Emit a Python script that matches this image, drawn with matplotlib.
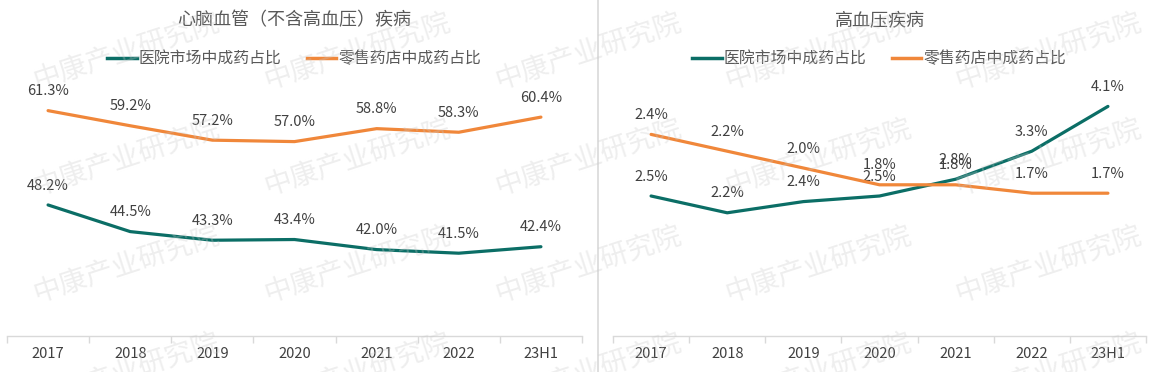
import matplotlib
matplotlib.use("Agg")
import matplotlib.pyplot as plt
from matplotlib.lines import Line2D

plt.rcParams['font.family'] = ['Noto Sans CJK SC', 'DejaVu Sans']

years = ['2017', '2018', '2019', '2020', '2021', '2022', '23H1']
series_names = ['医院市场中成药占比', '零售药店中成药占比']

# 心脑血管（不含高血压）疾病
cv_hospital = [48.2, 44.5, 43.3, 43.4, 42.0, 41.5, 42.4]
cv_retail = [61.3, 59.2, 57.2, 57.0, 58.8, 58.3, 60.4]

# 高血压疾病
hp_hospital = [2.5, 2.2, 2.4, 2.5, 2.8, 3.3, 4.1]
hp_retail = [2.4, 2.2, 2.0, 1.8, 1.8, 1.7, 1.7]

TEAL = '#0b6e66'
ORANGE = '#f0873a'
GRID = '#d9d9d9'
LABEL = '#404040'

W, H = 1149, 372
fig = plt.figure(figsize=(W / 100, H / 100), dpi=100)


def px_axes(x0, x1, ytop, ybot):
    return fig.add_axes([x0 / W, 1 - ybot / H, (x1 - x0) / W, (ybot - ytop) / H])


def style_axis(ax):
    for s in ['top', 'right', 'left']:
        ax.spines[s].set_visible(False)
    ax.spines['bottom'].set_color(GRID)
    ax.spines['bottom'].set_linewidth(1)
    ax.set_yticks([])
    ax.set_xlim(-0.5, len(years) - 0.5)
    ax.set_xticks(range(len(years)))
    ax.set_xticklabels(years, fontsize=10.5, color=LABEL)
    ax.tick_params(axis='x', which='major', length=0, pad=8)
    ax.set_xticks([i - 0.5 for i in range(len(years) + 1)], minor=True)
    ax.tick_params(axis='x', which='minor', length=5, color=GRID, width=1)
    ax.patch.set_alpha(0)


def label_points(ax, vals):
    for i, v in enumerate(vals):
        ax.annotate('{:.1f}%'.format(v), (i, v), xytext=(0, 14),
                    textcoords='offset points', ha='center', va='center',
                    fontsize=10.5, color=LABEL, annotation_clip=False)


def add_head(ax, title):
    ax.text(0.5, 1 + 64 / 252, title, transform=ax.transAxes, ha='center',
            va='center', fontsize=13, color='#595959')
    handles = [Line2D([], [], color=TEAL, lw=2.5),
               Line2D([], [], color=ORANGE, lw=2.5)]
    ax.legend(handles, series_names, loc='center',
              bbox_to_anchor=(0.5, 1 + 25 / 252), ncol=2, frameon=False,
              fontsize=11.4, handlelength=1.85, handletextpad=0.15,
              columnspacing=1.6, labelcolor='#595959')


x = list(range(len(years)))

# left panel
ax1 = px_axes(7, 582, 84, 336)
style_axis(ax1)
ax1.set_ylim(30, 65)
ax1.plot(x, cv_hospital, color=TEAL, lw=2.3, solid_capstyle='round')
ax1.plot(x, cv_retail, color=ORANGE, lw=2.3, solid_capstyle='round')
label_points(ax1, cv_hospital)
label_points(ax1, cv_retail)
add_head(ax1, '心脑血管（不含高血压）疾病')

# right panel, retail on secondary axis
ax2 = px_axes(613, 1146, 84, 336)
style_axis(ax2)
ax2.set_ylim(0, 4.5)
ax2.plot(x, hp_hospital, color=TEAL, lw=2.3, solid_capstyle='round', zorder=3)
label_points(ax2, hp_hospital)
ax2b = ax2.twinx()
ax2b.set_ylim(0, 3.0)
for s in ax2b.spines.values():
    s.set_visible(False)
ax2b.set_yticks([])
ax2b.plot(x, hp_retail, color=ORANGE, lw=2.3, solid_capstyle='round')
label_points(ax2b, hp_retail)
add_head(ax2, '高血压疾病')

# divider between panels
fig.add_artist(Line2D([597.5 / W, 597.5 / W], [0, 1], color=GRID, lw=1.2))

# watermark
for cx in [126, 357, 588, 818, 1048]:
    for cy in [52, 158, 265, 372]:
        fig.text(cx / W, 1 - cy / H, '中康产业研究院', rotation=18,
                 ha='center', va='center', fontsize=20, color='#c8c8c8',
                 alpha=0.3, zorder=10)

fig.savefig('out.png', dpi=100)
